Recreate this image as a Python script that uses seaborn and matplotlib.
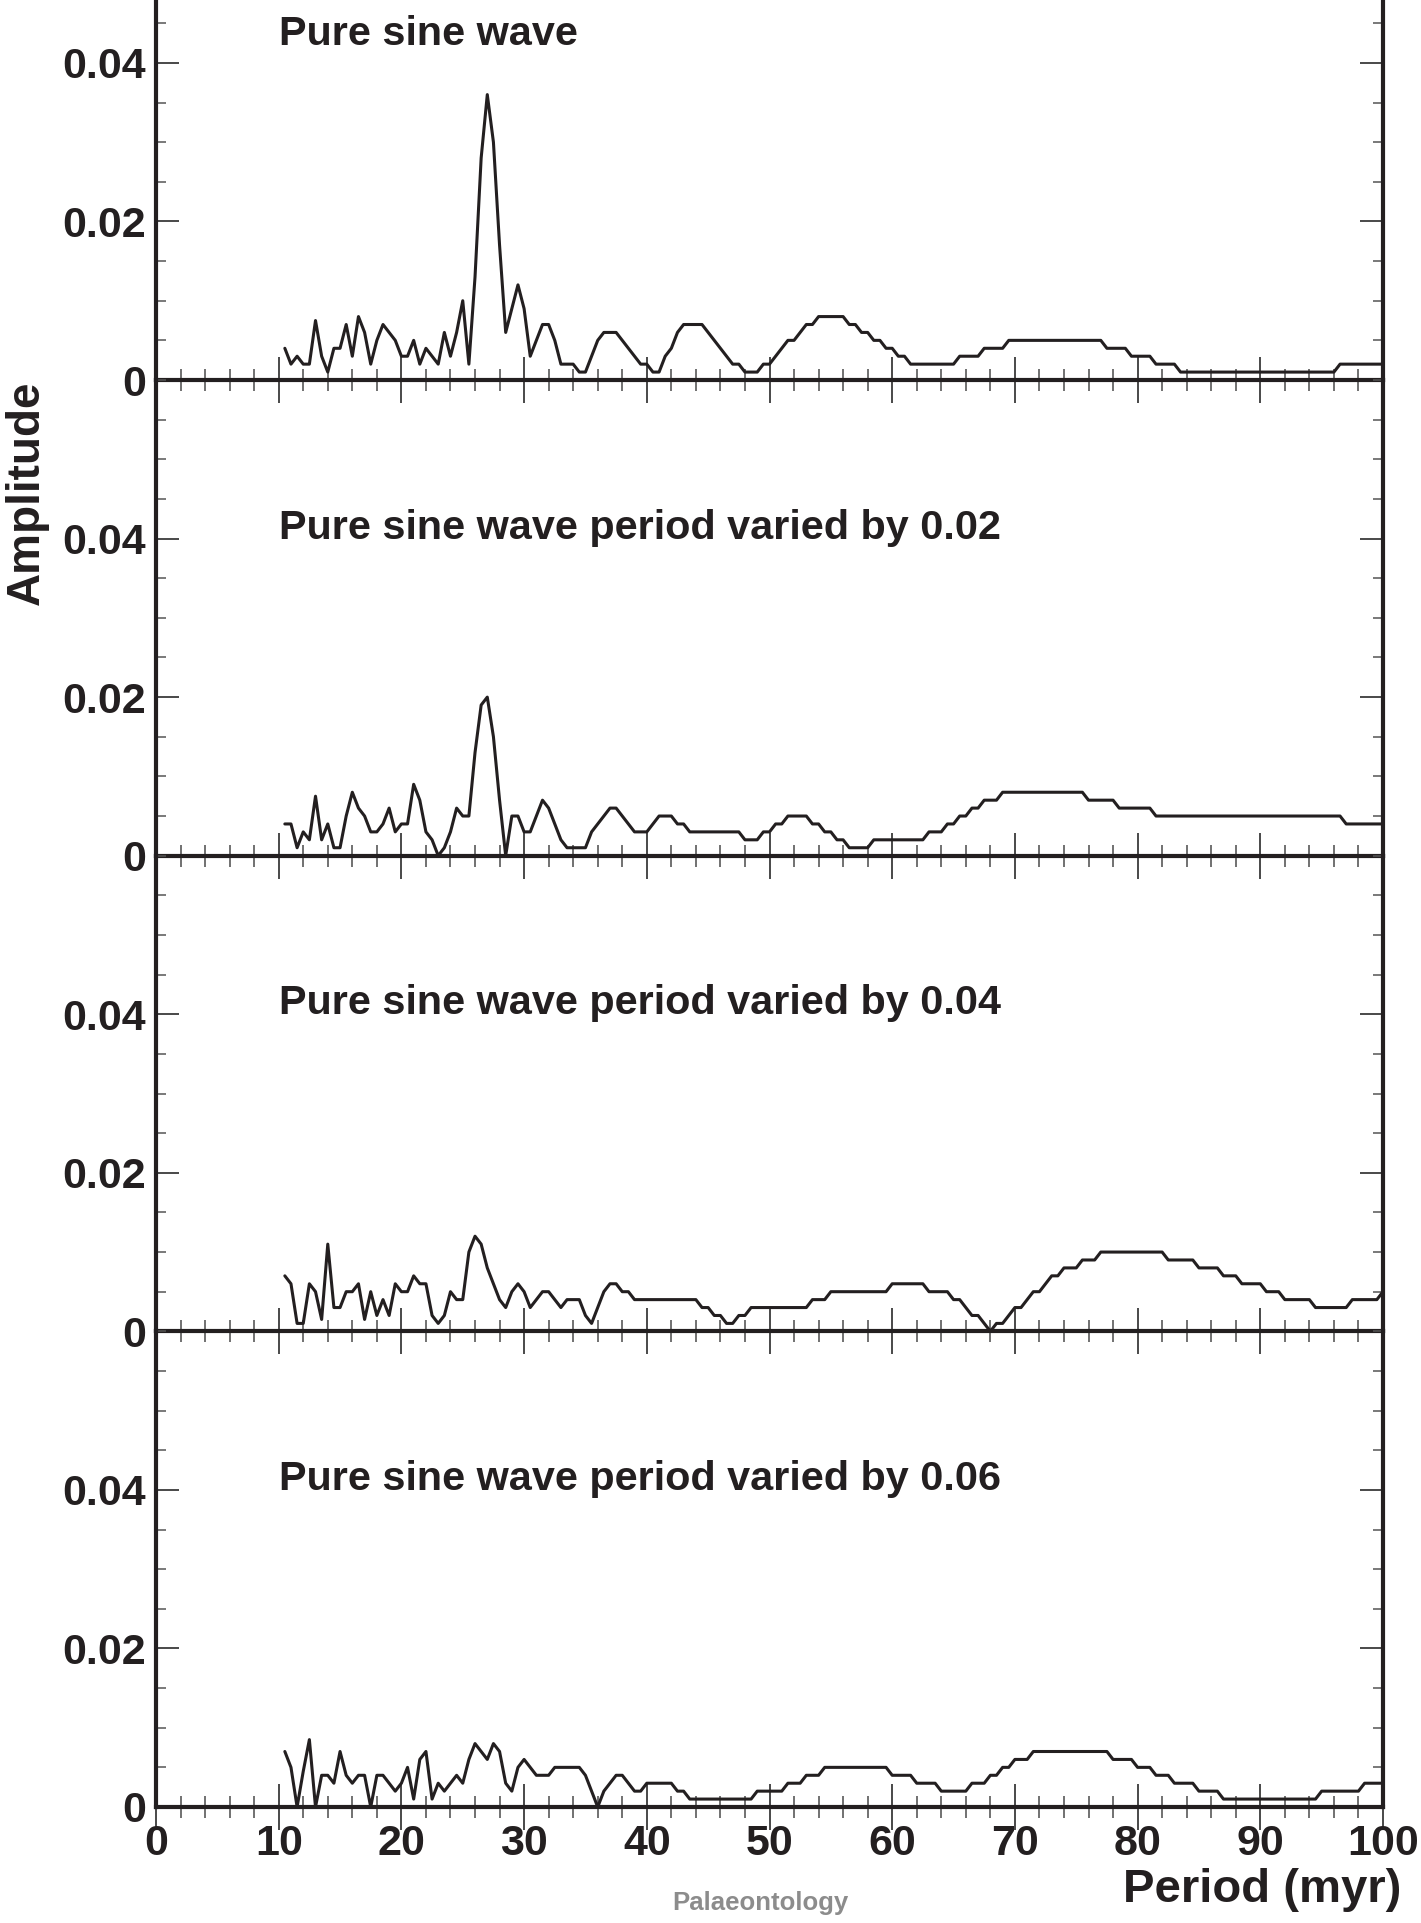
import numpy as np
import pandas as pd
import matplotlib
matplotlib.use("Agg")
import matplotlib.pyplot as plt
import seaborn as sns
from matplotlib.ticker import MultipleLocator, FixedLocator, FuncFormatter

# Sampling grid of the periodogram (myr)
periods = np.arange(10.5, 100.01, 0.5)

amp_pure = [
    0.004, 0.002, 0.003, 0.002, 0.002, 0.0075, 0.003, 0.001, 0.004, 0.004,
    0.007, 0.003, 0.008, 0.006, 0.002, 0.005, 0.007, 0.006, 0.005, 0.003,
    0.003, 0.005, 0.002, 0.004, 0.003, 0.002, 0.006, 0.003, 0.006, 0.010,
    0.002, 0.013, 0.028, 0.036, 0.030, 0.017, 0.006, 0.009, 0.012, 0.009,
    0.003, 0.005, 0.007, 0.007, 0.005, 0.002, 0.002, 0.002, 0.001, 0.001,
    0.003, 0.005, 0.006, 0.006, 0.006, 0.005, 0.004, 0.003, 0.002, 0.002,
    0.001, 0.001, 0.003, 0.004, 0.006, 0.007, 0.007, 0.007, 0.007, 0.006,
    0.005, 0.004, 0.003, 0.002, 0.002, 0.001, 0.001, 0.001, 0.002, 0.002,
    0.003, 0.004, 0.005, 0.005, 0.006, 0.007, 0.007, 0.008, 0.008, 0.008,
    0.008, 0.008, 0.007, 0.007, 0.006, 0.006, 0.005, 0.005, 0.004, 0.004,
    0.003, 0.003, 0.002, 0.002, 0.002, 0.002, 0.002, 0.002, 0.002, 0.002,
    0.003, 0.003, 0.003, 0.003, 0.004, 0.004, 0.004, 0.004, 0.005, 0.005,
    0.005, 0.005, 0.005, 0.005, 0.005, 0.005, 0.005, 0.005, 0.005, 0.005,
    0.005, 0.005, 0.005, 0.005, 0.004, 0.004, 0.004, 0.004, 0.003, 0.003,
    0.003, 0.003, 0.002, 0.002, 0.002, 0.002, 0.001, 0.001, 0.001, 0.001,
    0.001, 0.001, 0.001, 0.001, 0.001, 0.001, 0.001, 0.001, 0.001, 0.001,
    0.001, 0.001, 0.001, 0.001, 0.001, 0.001, 0.001, 0.001, 0.001, 0.001,
    0.001, 0.001, 0.002, 0.002, 0.002, 0.002, 0.002, 0.002, 0.002, 0.002,
]

amp_var02 = [
    0.004, 0.004, 0.001, 0.003, 0.002, 0.0075, 0.002, 0.004, 0.001, 0.001,
    0.005, 0.008, 0.006, 0.005, 0.003, 0.003, 0.004, 0.006, 0.003, 0.004,
    0.004, 0.009, 0.007, 0.003, 0.002, 0.000, 0.001, 0.003, 0.006, 0.005,
    0.005, 0.013, 0.019, 0.020, 0.015, 0.007, 0.000, 0.005, 0.005, 0.003,
    0.003, 0.005, 0.007, 0.006, 0.004, 0.002, 0.001, 0.001, 0.001, 0.001,
    0.003, 0.004, 0.005, 0.006, 0.006, 0.005, 0.004, 0.003, 0.003, 0.003,
    0.004, 0.005, 0.005, 0.005, 0.004, 0.004, 0.003, 0.003, 0.003, 0.003,
    0.003, 0.003, 0.003, 0.003, 0.003, 0.002, 0.002, 0.002, 0.003, 0.003,
    0.004, 0.004, 0.005, 0.005, 0.005, 0.005, 0.004, 0.004, 0.003, 0.003,
    0.002, 0.002, 0.001, 0.001, 0.001, 0.001, 0.002, 0.002, 0.002, 0.002,
    0.002, 0.002, 0.002, 0.002, 0.002, 0.003, 0.003, 0.003, 0.004, 0.004,
    0.005, 0.005, 0.006, 0.006, 0.007, 0.007, 0.007, 0.008, 0.008, 0.008,
    0.008, 0.008, 0.008, 0.008, 0.008, 0.008, 0.008, 0.008, 0.008, 0.008,
    0.008, 0.007, 0.007, 0.007, 0.007, 0.007, 0.006, 0.006, 0.006, 0.006,
    0.006, 0.006, 0.005, 0.005, 0.005, 0.005, 0.005, 0.005, 0.005, 0.005,
    0.005, 0.005, 0.005, 0.005, 0.005, 0.005, 0.005, 0.005, 0.005, 0.005,
    0.005, 0.005, 0.005, 0.005, 0.005, 0.005, 0.005, 0.005, 0.005, 0.005,
    0.005, 0.005, 0.005, 0.004, 0.004, 0.004, 0.004, 0.004, 0.004, 0.004,
]

amp_var04 = [
    0.007, 0.006, 0.001, 0.001, 0.006, 0.005, 0.0015, 0.011, 0.003, 0.003,
    0.005, 0.005, 0.006, 0.0015, 0.005, 0.002, 0.004, 0.002, 0.006, 0.005,
    0.005, 0.007, 0.006, 0.006, 0.002, 0.001, 0.002, 0.005, 0.004, 0.004,
    0.010, 0.012, 0.011, 0.008, 0.006, 0.004, 0.003, 0.005, 0.006, 0.005,
    0.003, 0.004, 0.005, 0.005, 0.004, 0.003, 0.004, 0.004, 0.004, 0.002,
    0.001, 0.003, 0.005, 0.006, 0.006, 0.005, 0.005, 0.004, 0.004, 0.004,
    0.004, 0.004, 0.004, 0.004, 0.004, 0.004, 0.004, 0.004, 0.003, 0.003,
    0.002, 0.002, 0.001, 0.001, 0.002, 0.002, 0.003, 0.003, 0.003, 0.003,
    0.003, 0.003, 0.003, 0.003, 0.003, 0.003, 0.004, 0.004, 0.004, 0.005,
    0.005, 0.005, 0.005, 0.005, 0.005, 0.005, 0.005, 0.005, 0.005, 0.006,
    0.006, 0.006, 0.006, 0.006, 0.006, 0.005, 0.005, 0.005, 0.005, 0.004,
    0.004, 0.003, 0.002, 0.002, 0.001, 0.000, 0.001, 0.001, 0.002, 0.003,
    0.003, 0.004, 0.005, 0.005, 0.006, 0.007, 0.007, 0.008, 0.008, 0.008,
    0.009, 0.009, 0.009, 0.010, 0.010, 0.010, 0.010, 0.010, 0.010, 0.010,
    0.010, 0.010, 0.010, 0.010, 0.009, 0.009, 0.009, 0.009, 0.009, 0.008,
    0.008, 0.008, 0.008, 0.007, 0.007, 0.007, 0.006, 0.006, 0.006, 0.006,
    0.005, 0.005, 0.005, 0.004, 0.004, 0.004, 0.004, 0.004, 0.003, 0.003,
    0.003, 0.003, 0.003, 0.003, 0.004, 0.004, 0.004, 0.004, 0.004, 0.005,
]

amp_var06 = [
    0.007, 0.005, 0.000, 0.0045, 0.0085, 0.000, 0.004, 0.004, 0.003, 0.007,
    0.004, 0.003, 0.004, 0.004, 0.000, 0.004, 0.004, 0.003, 0.002, 0.003,
    0.005, 0.001, 0.006, 0.007, 0.001, 0.003, 0.002, 0.003, 0.004, 0.003,
    0.006, 0.008, 0.007, 0.006, 0.008, 0.007, 0.003, 0.002, 0.005, 0.006,
    0.005, 0.004, 0.004, 0.004, 0.005, 0.005, 0.005, 0.005, 0.005, 0.004,
    0.002, 0.000, 0.002, 0.003, 0.004, 0.004, 0.003, 0.002, 0.002, 0.003,
    0.003, 0.003, 0.003, 0.003, 0.002, 0.002, 0.001, 0.001, 0.001, 0.001,
    0.001, 0.001, 0.001, 0.001, 0.001, 0.001, 0.001, 0.002, 0.002, 0.002,
    0.002, 0.002, 0.003, 0.003, 0.003, 0.004, 0.004, 0.004, 0.005, 0.005,
    0.005, 0.005, 0.005, 0.005, 0.005, 0.005, 0.005, 0.005, 0.005, 0.004,
    0.004, 0.004, 0.004, 0.003, 0.003, 0.003, 0.003, 0.002, 0.002, 0.002,
    0.002, 0.002, 0.003, 0.003, 0.003, 0.004, 0.004, 0.005, 0.005, 0.006,
    0.006, 0.006, 0.007, 0.007, 0.007, 0.007, 0.007, 0.007, 0.007, 0.007,
    0.007, 0.007, 0.007, 0.007, 0.007, 0.006, 0.006, 0.006, 0.006, 0.005,
    0.005, 0.005, 0.004, 0.004, 0.004, 0.003, 0.003, 0.003, 0.003, 0.002,
    0.002, 0.002, 0.002, 0.001, 0.001, 0.001, 0.001, 0.001, 0.001, 0.001,
    0.001, 0.001, 0.001, 0.001, 0.001, 0.001, 0.001, 0.001, 0.001, 0.002,
    0.002, 0.002, 0.002, 0.002, 0.002, 0.002, 0.003, 0.003, 0.003, 0.003,
]

panel_titles = [
    "Pure sine wave",
    "Pure sine wave period varied by 0.02",
    "Pure sine wave period varied by 0.04",
    "Pure sine wave period varied by 0.06",
]
x_ticks = [0, 10, 20, 30, 40, 50, 60, 70, 80, 90, 100]
y_ticks = [0, 0.02, 0.04]

series = [amp_pure, amp_var02, amp_var04, amp_var06]

sns.set_theme(style="ticks")
plt.rcParams["font.family"] = ["Liberation Sans", "DejaVu Sans"]
plt.rcParams["font.weight"] = "bold"

INK = "#231f20"
TICK_SIZE = 31

W, H = 1421, 1923
fig = plt.figure(figsize=(W / 100, H / 100), dpi=100)
fig.patch.set_facecolor("white")

ax_left, ax_width = 156 / W, 1227 / W
panel_h = (1807 - 380) / 3
baselines = [380 + i * panel_h for i in range(4)]
title_y = [0.0422, 0.040, 0.040, 0.040]

for i, (vals, title) in enumerate(zip(series, panel_titles)):
    ax = fig.add_axes([ax_left, 1 - baselines[i] / H, ax_width, panel_h / H])
    ax.set_facecolor("none")
    df = pd.DataFrame({"period": periods, "amplitude": vals})
    sns.lineplot(data=df, x="period", y="amplitude", ax=ax, color=INK,
                 linewidth=2.2, sort=False, errorbar=None)
    ax.set_xlim(0, 100)
    ax.set_ylim(0, 0.06)
    ax.set_xlabel("")
    ax.set_ylabel("")

    for side in ["left", "right", "bottom"]:
        ax.spines[side].set_visible(True)
        ax.spines[side].set_linewidth(3)
        ax.spines[side].set_color(INK)
        ax.spines[side].set_zorder(5)
    ax.spines["top"].set_visible(False)

    ax.xaxis.set_major_locator(FixedLocator(x_ticks))
    ax.xaxis.set_minor_locator(MultipleLocator(2))
    ax.yaxis.set_major_locator(FixedLocator(y_ticks))
    ax.yaxis.set_minor_locator(MultipleLocator(0.005))
    ax.yaxis.set_major_formatter(FuncFormatter(lambda v, p: "0" if v == 0 else f"{v:.2f}"))

    ax.tick_params(axis="x", which="major", direction="inout", length=33, width=1.3,
                   color="#3a3a3a", bottom=True, top=False, pad=-4,
                   labelsize=TICK_SIZE, labelcolor=INK)
    ax.tick_params(axis="x", which="minor", direction="inout", length=16, width=1.1,
                   color="#4a4a4a", bottom=True, top=False)
    ax.tick_params(axis="y", which="major", direction="in", length=16.5, width=1.3,
                   color="#3a3a3a", left=True, right=True, pad=7,
                   labelsize=TICK_SIZE, labelcolor=INK)
    ax.tick_params(axis="y", which="minor", direction="in", length=7, width=1.1,
                   color="#555555", left=True, right=True)
    for lab in ax.get_yticklabels() + ax.get_xticklabels():
        lab.set_fontweight("bold")
    if i < 3:
        ax.tick_params(axis="x", labelbottom=False)

    ax.text(10.05, title_y[i], title, fontsize=29.8, fontweight="bold", color=INK,
            ha="left", va="baseline")

fig.text(27 / W, 1 - 493 / H, "Amplitude", rotation=90, ha="center", va="center",
         fontsize=33, fontweight="bold", color=INK)
fig.text(1401 / W, 1 - 1890 / H, "Period (myr)", ha="right", va="center",
         fontsize=34, fontweight="bold", color=INK)
fig.text(760 / W, 1 - 1903 / H, "Palaeontology", ha="center", va="center",
         fontsize=18.5, fontweight="bold", color="#8c8c8c")

fig.savefig("out.png", dpi=100, facecolor="white")
